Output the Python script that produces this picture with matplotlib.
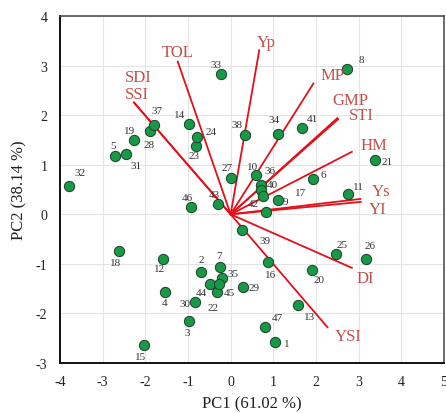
import numpy as np
import matplotlib
matplotlib.use("Agg")
import matplotlib.pyplot as plt

# genotype scores (PC1, PC2)
gen_id = list(range(1, 48))
pc1 = [1.04, -0.70, -0.98, -1.53, -2.71, 1.92, -0.24, 2.73, 1.10, 0.60,
       2.74, -1.58, 1.58, -0.97, -2.03, 0.88, 0.84, -2.61, -2.27, 1.91,
       3.38, -0.32, -0.82, -0.80, 2.46, 3.17, 0.00, -1.88, 0.28, -0.84,
       -2.45, -3.78, -0.23, 1.12, -0.20, 0.71, -1.80, 0.34, 0.27, 0.71,
       1.68, 0.75, -0.29, -0.48, -0.27, -0.94, 0.81]
pc2 = [-2.57, -1.16, -2.16, -1.56, 1.18, 0.71, -1.06, 2.94, 0.29, 0.80,
       0.41, -0.90, -1.84, 1.82, -2.64, -0.97, 0.04, -0.75, 1.50, -1.12,
       1.10, -1.57, 1.38, 1.55, -0.81, -0.90, 0.74, 1.69, -1.47, -1.76,
       1.22, 0.57, 2.84, 1.63, -1.29, 0.59, 1.81, 1.61, -0.31, 0.50,
       1.75, 0.36, 0.21, -1.41, -1.40, 0.15, -2.27]

# trait loadings (vector ends)
traits = ["TOL", "SDI", "SSI", "Yp", "MP", "GMP", "STI", "HM", "Ys", "YI", "DI", "YSI"]
load1 = [-1.24, -2.27, -2.25, 0.67, 1.94, 2.50, 2.52, 2.84, 3.04, 3.05, 2.84, 2.27]
load2 = [3.08, 2.26, 2.24, 3.31, 2.64, 1.94, 1.92, 1.26, 0.31, 0.25, -1.08, -2.28]

# label offsets in pixels (right, up)
pt_off = {1: (12, -2), 2: (1, 12), 3: (-2, -11), 4: (-1, -11), 5: (-2, 10),
          6: (11, 5), 7: (-1, 11), 8: (14, 9), 9: (8, -2), 10: (-4, 8),
          11: (11, 7), 12: (-4, -10), 13: (11, -11), 14: (-10, 10), 15: (-3, -11),
          16: (2, -12), 17: (34, 20), 18: (-4, -11), 19: (-4, 9), 20: (7, -10),
          21: (12, -2), 22: (-4, -15), 23: (-2, -10), 24: (15, 6), 25: (6, 10),
          26: (4, 13), 27: (-4, 10), 28: (-1, -14), 29: (11, 0), 30: (-10, -2),
          31: (10, -12), 32: (11, 14), 33: (-5, 9), 34: (-4, 14), 35: (11, 5),
          36: (9, 15), 37: (3, 14), 38: (-8, 10), 39: (23, -11), 40: (11, 5),
          41: (10, 9), 42: (-9, -7), 43: (-4, 9), 44: (-9, -8), 45: (10, -9),
          46: (-3, 9), 47: (12, 9)}
tr_off = {"TOL": (0, 10), "SDI": (4, 25), "SSI": (2, 9), "Yp": (7, 8), "MP": (19, 8),
          "GMP": (13, 18), "STI": (23, 4), "HM": (22, 7), "Ys": (21, 8), "YI": (17, -7),
          "DI": (13, -10), "YSI": (21, -9)}

plt.rcParams['font.family'] = ['Liberation Serif', 'DejaVu Serif']
plt.rcParams['axes.unicode_minus'] = False

fig = plt.figure(figsize=(4.46, 4.14), dpi=100)
ax = fig.add_axes([0.1345, 0.1208, 0.861, 0.838])

ax.set_xlim(-4, 5)
ax.set_ylim(-3, 4)
ax.set_xticks(np.arange(-4, 6, 1))
ax.set_yticks(np.arange(-3, 5, 1))
ax.grid(True, color='#e4e4e4', linewidth=0.8)
ax.set_axisbelow(True)
ax.tick_params(length=0, labelsize=10, colors='#222222')
ax.tick_params(axis='x', pad=9)
ax.tick_params(axis='y', pad=9)

for sp in ['left', 'bottom']:
    ax.spines[sp].set_linewidth(1.4)
    ax.spines[sp].set_color('#111111')
for sp in ['top', 'right']:
    ax.spines[sp].set_linewidth(1.1)
    ax.spines[sp].set_color('#444444')

# vectors
for t, a, b in zip(traits, load1, load2):
    ax.plot([0, a], [0, b], color='#e3101a', linewidth=1.3, zorder=2)
    ax.annotate(t, (a, b), xytext=tr_off[t], textcoords='offset pixels',
                ha='center', va='center', fontsize=12, color='#c0504d', zorder=5)

# genotypes
ax.scatter(pc1, pc2, s=55, color='#179947', edgecolors='#1d3f26', linewidths=0.7, zorder=3)
for g, a, b in zip(gen_id, pc1, pc2):
    ax.annotate(str(g), (a, b), xytext=pt_off[g], textcoords='offset pixels',
                ha='center', va='center', fontsize=8, color='#333333', zorder=4)

ax.set_xlabel('PC1 (61.02 %)', fontsize=12, labelpad=5, color='#222222')
ax.set_ylabel('PC2 (38.14 %)', fontsize=12, labelpad=6, color='#222222')

fig.savefig('out.png', dpi=100)
